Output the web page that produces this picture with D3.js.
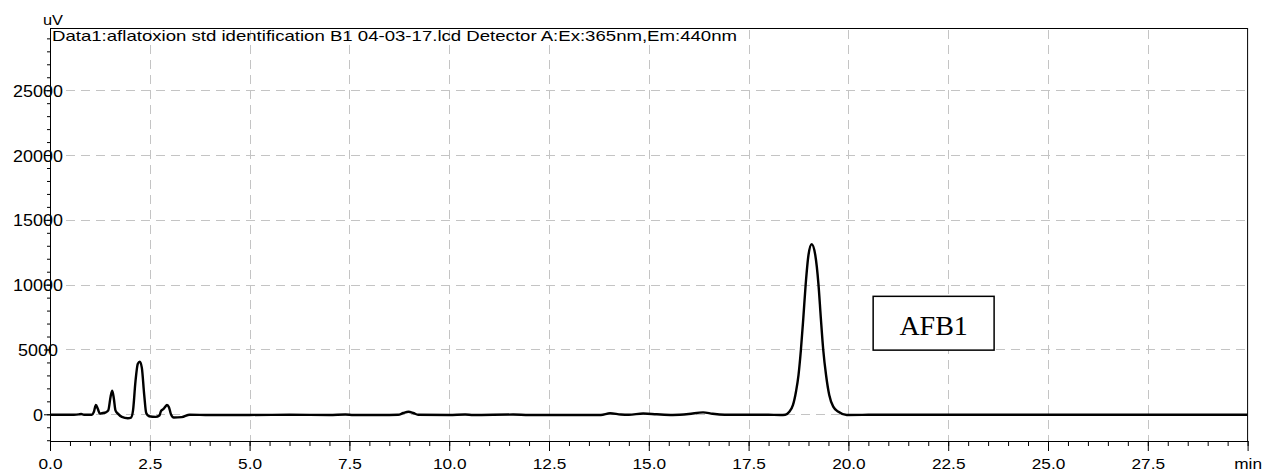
<!DOCTYPE html>
<html>
<head>
<meta charset="utf-8">
<script src="https://cdn.jsdelivr.net/npm/d3@7/dist/d3.min.js"></script>
<style>
  html, body { margin: 0; padding: 0; background: #fff; }
  svg { display: block; }
  text { font-family: "Liberation Sans", Arial, sans-serif; fill: #000; }
</style>
</head>
<body>
<svg id="chart" width="1264" height="473"></svg>
<script>
// ---- data ----
const timesMin = [
  0.0, 0.6, 0.72, 0.78, 0.85, 1.05, 1.10, 1.15, 1.20, 1.25, 1.30, 1.40, 1.46, 1.52, 1.56, 1.60, 1.64, 1.70,
  1.80, 1.95, 2.03, 2.08, 2.14, 2.20, 2.25, 2.30, 2.36, 2.41, 2.48, 2.65, 2.74, 2.78, 2.83, 2.88, 2.93,
  2.98, 3.03, 3.10, 3.30, 3.50, 4.0, 5.0, 6.0, 7.0, 7.4, 7.6, 8.5, 8.72, 8.85, 8.98, 9.10, 9.22, 10.0,
  10.4, 10.6, 11.6, 12.0, 13.8, 14.03, 14.3, 14.5, 14.86, 15.2, 15.6, 16.0, 16.36, 16.6, 16.9, 18.0,
  18.30, 18.42, 18.52, 18.61, 18.69, 18.75, 18.81, 18.87, 18.93, 19.00, 19.08, 19.17, 19.25, 19.31,
  19.37, 19.44, 19.52, 19.62, 19.75, 19.96, 20.5, 21.5, 23.0, 25.0, 27.0, 28.5, 30.0
];
const signalUV = [
  -30, -30, -10, 20, -30, -30, 200, 720, 400, 50, 80, 150, 300, 1400, 1820, 1200, 300, 50,
  -200, -300, -250, 300, 2500, 3900, 4060, 3600, 1500, 100, -150, -200, -100, 250, 380, 550, 720,
  550, 0, -250, -220, -30, -60, -50, -40, -50, -20, -50, -50, -40, 100, 200, 100, -40, -50,
  -20, -50, -20, -50, -50, 80, -20, -40, 60, 0, -50, 20, 150, 40, -30, -40,
  -50, -30, 200, 700, 1800, 3030, 4960, 7400, 10030, 12290, 13120, 12290, 10030, 7400,
  4960, 3030, 1490, 590, 200, -50, -40, -40, -40, -40, -40, -40, -40
];
const xMajorTicks = [0, 2.5, 5, 7.5, 10, 12.5, 15, 17.5, 20, 22.5, 25, 27.5, 30];
const xTickLabels = ["0.0", "2.5", "5.0", "7.5", "10.0", "12.5", "15.0", "17.5", "20.0", "22.5", "25.0", "27.5", "min"];
const yMajorTicks = [0, 5000, 10000, 15000, 20000, 25000];
const yTickLabels = ["0", "5000", "10000", "15000", "20000", "25000"];
const titleText = "Data1:aflatoxion std identification B1 04-03-17.lcd Detector A:Ex:365nm,Em:440nm";
const yUnit = "uV";
const peakLabel = "AFB1";

// ---- layout ----
const svg = d3.select("#chart");
const pL = 50, pR = 1247.6, pT = 28, pB = 441;
const x = d3.scaleLinear().domain([0, 30]).range([pL, pR]);
const y = d3.scaleLinear().domain([-2060, 29800]).range([pB, pT]);

// grid
const grid = svg.append("g").attr("stroke", "#c4c4c4").attr("stroke-width", 1).attr("stroke-dasharray", "9,6");
grid.selectAll("line.v").data(xMajorTicks.filter(d => d > 0 && d < 30)).enter().append("line")
  .attr("x1", d => Math.round(x(d)) + 0.5).attr("x2", d => Math.round(x(d)) + 0.5)
  .attr("y1", pT + 2).attr("y2", pB);
grid.selectAll("line.h").data(yMajorTicks).enter().append("line")
  .attr("x1", 66).attr("x2", pR)
  .attr("y1", d => Math.round(y(d)) + 0.5).attr("y2", d => Math.round(y(d)) + 0.5);

// x axis
const xMinor = d3.range(0, 30.001, 0.5);
const xAxisMinor = d3.axisBottom(x).tickValues(xMinor).tickSize(5).tickFormat("");
svg.append("g").attr("transform", `translate(0,${pB})`).call(xAxisMinor)
  .call(g => g.select(".domain").remove())
  .call(g => g.selectAll("line").attr("stroke", "#000"));
const xAxis = d3.axisBottom(x).tickValues(xMajorTicks).tickSize(10).tickSizeOuter(0)
  .tickFormat((d, i) => xTickLabels[i]);
const gx = svg.append("g").attr("transform", `translate(0,${pB})`).call(xAxis);
gx.select(".domain").attr("stroke", "#000");
gx.selectAll("line").attr("stroke", "#000");
gx.selectAll("text").attr("y", 0).attr("dy", 0).attr("x", 0)
  .attr("transform", "translate(0,28) scale(1.15,1)")
  .attr("text-anchor", "middle")
  .style("font-size", "15px").style("font-family", "'Liberation Sans', Arial, sans-serif")
  .attr("fill", "#000");

// y axis
const yMinor = d3.range(-2000, 29801, 1000);
const yAxisMinor = d3.axisLeft(y).tickValues(yMinor).tickSize(3).tickFormat("");
svg.append("g").attr("transform", `translate(${pL},0)`).call(yAxisMinor)
  .call(g => g.select(".domain").remove())
  .call(g => g.selectAll("line").attr("stroke", "#000"));
const yAxis = d3.axisLeft(y).tickValues(yMajorTicks).tickSize(6).tickSizeOuter(0)
  .tickFormat((d, i) => yTickLabels[i]);
const gy = svg.append("g").attr("transform", `translate(${pL},0)`).call(yAxis);
gy.select(".domain").attr("stroke", "#000");
gy.selectAll("line").attr("stroke", "#000");
gy.selectAll("text").attr("x", 0).attr("dy", 0)
  .attr("transform", "translate(-12,6) scale(1.12,1)")
  .attr("text-anchor", "middle")
  .style("font-size", "16px").style("font-family", "'Liberation Sans', Arial, sans-serif")
  .attr("fill", "#000");

// frame top and right
svg.append("line").attr("x1", pL).attr("x2", pR).attr("y1", pT + 0.5).attr("y2", pT + 0.5).attr("stroke", "#000");
svg.append("line").attr("x1", pR).attr("x2", pR).attr("y1", pT).attr("y2", pB).attr("stroke", "#000");

// unit label
svg.append("text").attr("transform", "translate(53,25) scale(1.17,1)").attr("text-anchor", "middle")
  .style("font-size", "14px").text(yUnit);

// title
svg.append("text").attr("x", 52).attr("y", 41).style("font-size", "14.5px")
  .attr("textLength", 685).attr("lengthAdjust", "spacingAndGlyphs").text(titleText);

// trace
const pts = timesMin.map((t, i) => [t, signalUV[i]]);
const line = d3.line().x(d => x(d[0])).y(d => y(d[1])).curve(d3.curveMonotoneX);
svg.append("path").datum(pts).attr("d", line).attr("fill", "none")
  .attr("stroke", "#000").attr("stroke-width", 2.4).attr("stroke-linejoin", "round");

// peak annotation box
const bx0 = x(20.62), bx1 = x(23.65), by0 = y(9100), by1 = y(4950);
svg.append("rect").attr("x", bx0).attr("y", by0).attr("width", bx1 - bx0).attr("height", by1 - by0)
  .attr("fill", "#fff").attr("stroke", "#000").attr("stroke-width", 1.5);
svg.append("text").attr("x", (bx0 + bx1) / 2).attr("y", by0 + 39).attr("text-anchor", "middle")
  .style("font-family", "'Liberation Serif', 'Times New Roman', serif").style("font-size", "28px")
  .text(peakLabel);
</script>
</body>
</html>
